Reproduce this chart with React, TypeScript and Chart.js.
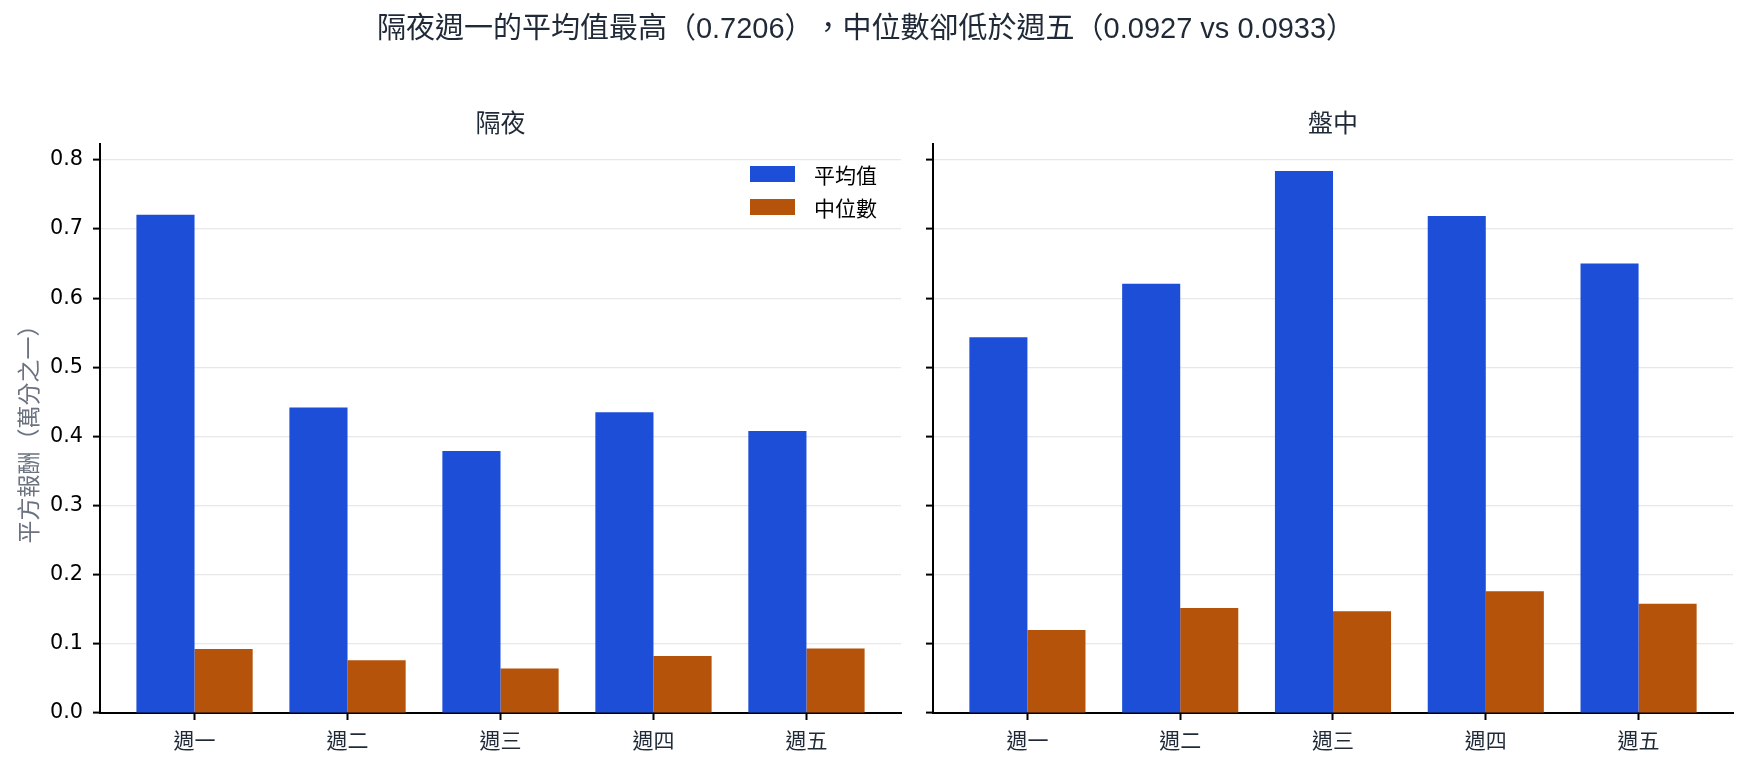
import React, { useEffect, useRef } from "react";
import { Chart, registerables } from "chart.js";

Chart.register(...registerables);

const days = ["週一", "週二", "週三", "週四", "週五"];
const overnightMean = [0.7206, 0.442, 0.379, 0.435, 0.408];
const overnightMedian = [0.0927, 0.0762, 0.0645, 0.0823, 0.0933];
const intradayMean = [0.5435, 0.621, 0.784, 0.719, 0.65];
const intradayMedian = [0.12, 0.152, 0.147, 0.176, 0.158];
const yTickValues = [0, 0.1, 0.2, 0.3, 0.4, 0.5, 0.6, 0.7, 0.8];
const seriesNames = ["平均值", "中位數"];
const panelTitles = ["隔夜", "盤中"];
const mainTitle = "隔夜週一的平均值最高（0.7206），中位數卻低於週五（0.0927 vs 0.0933）";
const yAxisLabel = "平方報酬（萬分之一）";

const BLUE = "#1d4ed8";
const ORANGE = "#b45309";
const FONT = '"Liberation Sans", "Noto Sans CJK TC", sans-serif';
const TICK_FONT = '"DejaVu Sans", "Noto Sans CJK TC", sans-serif';
const TITLE_COLOR = "#1f2937";

type PanelProps = {
  mean: number[];
  median: number[];
  left: number;
  width: number;
  yWidth: number;
  padRight: number;
  showYLabels: boolean;
};

function Panel({ mean, median, left, width, yWidth, padRight, showYLabels }: PanelProps) {
  const ref = useRef<HTMLCanvasElement | null>(null);
  useEffect(() => {
    if (!ref.current) return;
    const chart = new Chart(ref.current, {
      type: "bar",
      data: {
        datasets: [
          {
            label: seriesNames[0],
            data: mean.map((v, i) => ({ x: i, y: v })),
            backgroundColor: BLUE,
            borderWidth: 0,
            categoryPercentage: 0.76,
            barPercentage: 1,
          },
          {
            label: seriesNames[1],
            data: median.map((v, i) => ({ x: i, y: v })),
            backgroundColor: ORANGE,
            borderWidth: 0,
            categoryPercentage: 0.76,
            barPercentage: 1,
          },
        ],
      },
      options: {
        responsive: false,
        animation: false,
        devicePixelRatio: 1,
        layout: { padding: { top: 144, right: padRight, bottom: 0, left: 0 } },
        plugins: {
          legend: { display: false },
          tooltip: { enabled: false },
          title: { display: false },
        },
        scales: {
          x: {
            type: "linear",
            min: -0.618,
            max: 4.618,
            offset: false,
            afterBuildTicks: (scale: any) => {
              scale.ticks = days.map((_, i) => ({ value: i }));
            },
            afterFit: (scale: any) => {
              scale.height = 58;
            },
            grid: {
              display: true,
              drawOnChartArea: false,
              drawTicks: true,
              tickLength: 7,
              tickColor: "#000",
              tickWidth: 2,
              offset: false,
            },
            border: { display: true, color: "#000", width: 2 },
            ticks: {
              autoSkip: false,
              maxRotation: 0,
              padding: 10,
              color: TITLE_COLOR,
              font: { size: 21, family: TICK_FONT },
              callback: (v: any) => days[Number(v)] ?? "",
            },
          },
          y: {
            type: "linear",
            min: 0,
            max: 0.823,
            afterBuildTicks: (scale: any) => {
              scale.ticks = yTickValues.map((v) => ({ value: v }));
            },
            afterFit: (scale: any) => {
              scale.width = yWidth;
            },
            grid: {
              display: true,
              drawOnChartArea: true,
              color: "#e8e8e8",
              lineWidth: 1.2,
              drawTicks: true,
              tickLength: 7,
              tickColor: "#000",
              tickWidth: 2,
            },
            border: { display: true, color: "#000", width: 2 },
            title: showYLabels
              ? {
                  display: true,
                  text: yAxisLabel,
                  color: "#6b7280",
                  font: { size: 23, family: FONT },
                  padding: { top: 17, bottom: 0 },
                }
              : { display: false },
            ticks: {
              padding: 10,
              color: "#000",
              font: { size: 20.8, family: TICK_FONT },
              callback: (v: any) => (showYLabels ? Number(v).toFixed(1) : ""),
            },
          },
        },
      },
    } as any);
    return () => chart.destroy();
  }, []);
  return (
    <canvas
      ref={ref}
      width={width}
      height={771}
      style={{ position: "absolute", left, top: 0, width, height: 771 }}
    />
  );
}

export default function App() {
  return (
    <div
      style={{
        position: "absolute",
        left: 0,
        top: 0,
        width: 1750,
        height: 771,
        background: "#fff",
        overflow: "hidden",
        fontFamily: FONT,
      }}
    >
      <Panel
        mean={overnightMean}
        median={overnightMedian}
        left={0}
        width={915}
        yWidth={100}
        padRight={14}
        showYLabels={true}
      />
      <Panel
        mean={intradayMean}
        median={intradayMedian}
        left={915}
        width={835}
        yWidth={18}
        padRight={17}
        showYLabels={false}
      />
      <div
        style={
          {
            position: "absolute",
            left: 0,
            top: 10,
            width: 1732,
            textAlign: "center",
            fontSize: 29,
            lineHeight: "36px",
            color: TITLE_COLOR,
            whiteSpace: "nowrap",
            textSpacingTrim: "space-all",
            fontFeatureSettings: '"halt" 0, "chws" 0',
          } as any
        }
      >
        {mainTitle}
      </div>
      <div
        style={{
          position: "absolute",
          left: 100,
          top: 108,
          width: 801,
          textAlign: "center",
          fontSize: 25,
          lineHeight: "30px",
          color: TITLE_COLOR,
        }}
      >
        {panelTitles[0]}
      </div>
      <div
        style={{
          position: "absolute",
          left: 933,
          top: 108,
          width: 800,
          textAlign: "center",
          fontSize: 25,
          lineHeight: "30px",
          color: TITLE_COLOR,
        }}
      >
        {panelTitles[1]}
      </div>
      {seriesNames.map((name, i) => (
        <div
          key={name}
          style={{
            position: "absolute",
            left: 750,
            top: 161 + i * 33,
            height: 26,
            display: "flex",
            alignItems: "center",
            fontSize: 21,
            color: "#000",
          }}
        >
          <span
            style={{
              display: "inline-block",
              width: 45,
              height: 16,
              background: i === 0 ? BLUE : ORANGE,
              marginRight: 19,
            }}
          />
          <span>{name}</span>
        </div>
      ))}
    </div>
  );
}
